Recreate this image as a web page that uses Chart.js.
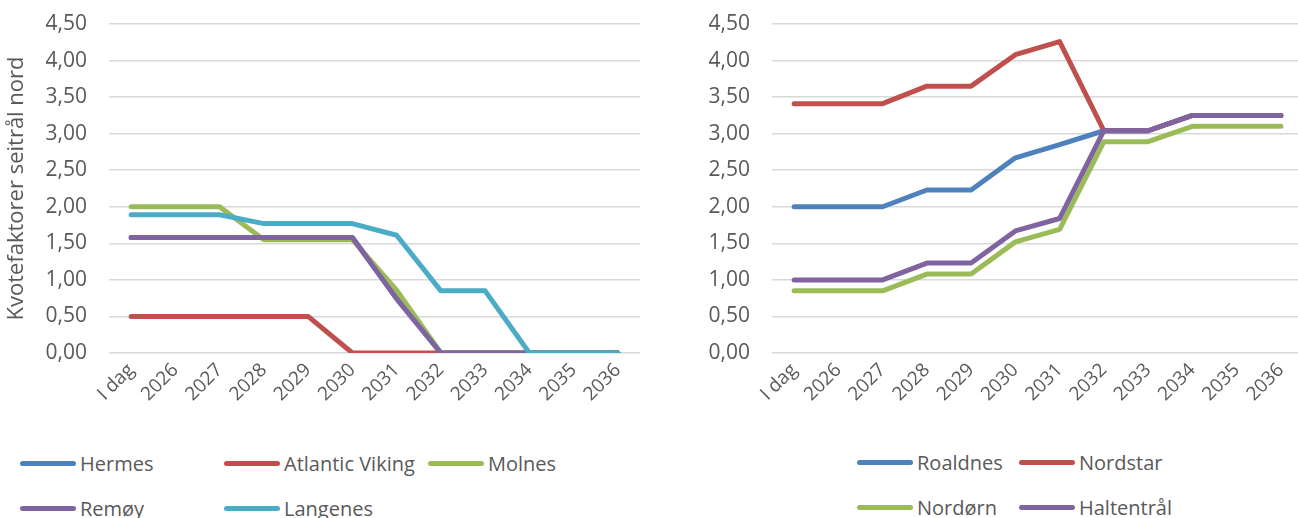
<!DOCTYPE html>
<html>
<head>
<meta charset="utf-8">
<script src="https://cdn.jsdelivr.net/npm/chart.js@4.4.1/dist/chart.umd.min.js"></script>
<style>
  body { margin: 0; width: 1298px; height: 518px; overflow: hidden; background: #fff; position: relative; font-family: "Open Sans", sans-serif; }
  .wrap { position: absolute; top: 0; height: 430px; }
  .legend { position: absolute; color: #595959; font-size: 20px; }
  .item { position: absolute; white-space: nowrap; display: flex; align-items: center; height: 30px; }
  .item span.sw { display: inline-block; width: 56px; height: 5px; border-radius: 3px; margin-right: 4px; }
</style>
</head>
<body>
<div class="wrap" style="left:0;width:650px"><canvas id="left"></canvas></div>
<div class="wrap" style="left:650px;width:660px"><canvas id="right"></canvas></div>
<div class="legend" id="legLeft"></div>
<div class="legend" id="legRight"></div>
<script>
// categories
const categories = ["I dag", "2026", "2027", "2028", "2029", "2030", "2031", "2032", "2033", "2034", "2035", "2036"];
const yTicks = [0, 0.5, 1, 1.5, 2, 2.5, 3, 3.5, 4, 4.5];

// left chart series
const hermes         = [1.58, 1.58, 1.58, 1.58, 1.58, 1.58, 0.75, 0, 0, 0, 0, 0];
const atlanticViking = [0.50, 0.50, 0.50, 0.50, 0.50, 0, 0, 0, 0, 0, 0, 0];
const molnes         = [2.00, 2.00, 2.00, 1.55, 1.55, 1.55, 0.86, 0, 0, 0, 0, 0];
const remoy          = [1.58, 1.58, 1.58, 1.58, 1.58, 1.58, 0.74, 0, 0, 0, 0, 0];
const langenes       = [1.89, 1.89, 1.89, 1.77, 1.77, 1.77, 1.61, 0.85, 0.85, 0, 0, 0];

// right chart series
const roaldnes   = [2.00, 2.00, 2.00, 2.23, 2.23, 2.67, 2.85, 3.04, 3.04, 3.25, 3.25, 3.25];
const nordstar   = [3.41, 3.41, 3.41, 3.65, 3.65, 4.08, 4.26, 3.04, 3.04, 3.25, 3.25, 3.25];
const nordorn    = [0.85, 0.85, 0.85, 1.08, 1.08, 1.52, 1.69, 2.89, 2.89, 3.10, 3.10, 3.10];
const haltentral = [1.00, 1.00, 1.00, 1.23, 1.23, 1.67, 1.84, 3.04, 3.04, 3.25, 3.25, 3.25];

const BLUE = "#4f81bd", RED = "#c0504d", GREEN = "#9bbb59", PURPLE = "#8064a2", CYAN = "#4bacc6";
const FONT = "'Open Sans', sans-serif";

function makeSets(list) {
  // Excel draws last series on top; in Chart.js lower order is on top
  return list.map((s, i) => ({
    label: s[0], data: s[1], borderColor: s[2], backgroundColor: s[2],
    borderWidth: 5, pointRadius: 0, borderCapStyle: "round", borderJoinStyle: "round",
    tension: 0, order: list.length - i
  }));
}

function makeChart(id, sets, yWidth, title, padRight) {
  return new Chart(document.getElementById(id), {
    type: "line",
    data: { labels: categories, datasets: makeSets(sets) },
    options: {
      responsive: false, animation: false,
      layout: { padding: { top: 24, right: padRight, left: 0, bottom: 0 } },
      plugins: { legend: { display: false }, tooltip: { enabled: false } },
      scales: {
        x: {
          offset: true,
          grid: { display: false, drawTicks: false },
          border: { display: false },
          ticks: { color: "#595959", font: { family: FONT, size: 19 }, minRotation: 45, maxRotation: 45, padding: 6 },
          afterFit: s => { s.height = 77; }
        },
        y: {
          min: 0, max: 4.5,
          afterBuildTicks: s => { s.ticks = yTicks.map(v => ({ value: v })); },
          grid: { color: "#d9d9d9", lineWidth: 1.5, drawTicks: false },
          border: { display: false },
          ticks: {
            color: "#595959", font: { family: FONT, size: 21 }, padding: 22,
            callback: v => v.toFixed(2).replace(".", ",")
          },
          title: title ? { display: true, text: title, color: "#595959", font: { family: FONT, size: 22 }, padding: { top: 4, bottom: 0 } } : { display: false },
          afterFit: s => { s.width = yWidth; s.paddingTop = 0; s.paddingBottom = 0; }
        }
      }
    }
  });
}

function setSize(id, w, h) {
  const c = document.getElementById(id);
  c.width = w; c.height = h; c.style.width = w + "px"; c.style.height = h + "px";
}
setSize("left", 650, 430);
setSize("right", 660, 430);

const leftSets = [
  ["Hermes", hermes, BLUE],
  ["Atlantic Viking", atlanticViking, RED],
  ["Molnes", molnes, GREEN],
  ["Remøy", remoy, PURPLE],
  ["Langenes", langenes, CYAN]
];
const rightSets = [
  ["Roaldnes", roaldnes, BLUE],
  ["Nordstar", nordstar, RED],
  ["Nordørn", nordorn, GREEN],
  ["Haltentrål", haltentral, PURPLE]
];

const leftChart = makeChart("left", leftSets, 109, "Kvotefaktorer seitrål nord", 10);
const rightChart = makeChart("right", rightSets, 122, null, 7);

// HTML legends built from chart datasets
function buildLegend(el, chart, x0, colW, perRow, rowY) {
  chart.data.datasets.forEach((ds, i) => {
    const d = document.createElement("div");
    d.className = "item";
    d.style.left = (x0 + (i % perRow) * colW) + "px";
    d.style.top = (rowY[Math.floor(i / perRow)] - 15) + "px";
    const sw = document.createElement("span");
    sw.className = "sw";
    sw.style.background = ds.borderColor;
    d.appendChild(sw);
    d.appendChild(document.createTextNode(ds.label));
    el.appendChild(d);
  });
}
buildLegend(document.getElementById("legLeft"), leftChart, 20, 204, 3, [463, 508]);
buildLegend(document.getElementById("legRight"), rightChart, 857, 162, 2, [462, 507]);
</script>
</body>
</html>
